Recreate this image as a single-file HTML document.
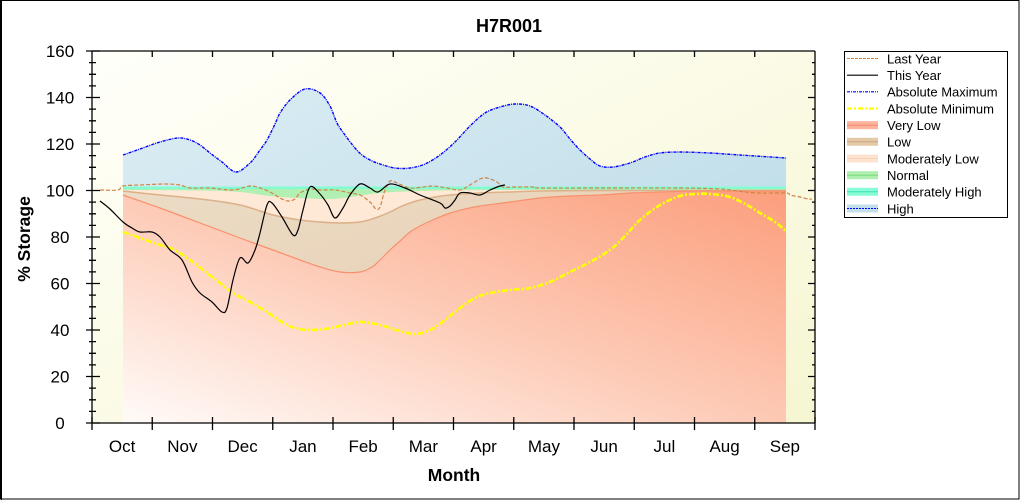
<!DOCTYPE html>
<html>
<head>
<meta charset="utf-8">
<style>
html,body{margin:0;padding:0;background:#fff;}
svg{display:block;}
text{font-family:"Liberation Sans",Arial,sans-serif;}
</style>
</head>
<body>
<svg id="chart" width="1020" height="500" viewBox="0 0 1020 500" xmlns="http://www.w3.org/2000/svg">
<defs>
  <linearGradient id="bg" x1="0" y1="0" x2="1" y2="1">
    <stop offset="0" stop-color="#fffffa"/>
    <stop offset="1" stop-color="#f6f6d2"/>
  </linearGradient>
  <linearGradient id="hi" x1="0" y1="0" x2="1" y2="1">
    <stop offset="0" stop-color="#dcedf4"/>
    <stop offset="1" stop-color="#b4d8e5"/>
  </linearGradient>
  <linearGradient id="vl" x1="0" y1="1" x2="1" y2="0">
    <stop offset="0" stop-color="#fffbf9"/>
    <stop offset="0.5" stop-color="#fdc9b4"/>
    <stop offset="1" stop-color="#fc9e7c"/>
  </linearGradient>
  <linearGradient id="lo" x1="0" y1="0" x2="1" y2="1">
    <stop offset="0" stop-color="#ecdcc6"/>
    <stop offset="1" stop-color="#e3c8a8"/>
  </linearGradient>
</defs>

<!-- outer frame -->
<rect x="0.5" y="0.5" width="1018.5" height="498.5" fill="#fff" stroke="#000" stroke-width="1"/>
<line x1="1.5" y1="0" x2="1.5" y2="500" stroke="#000" stroke-width="1"/>

<!-- plot background -->
<rect x="92" y="51" width="723" height="372" fill="url(#bg)"/>

<!-- High -->
<polygon class="smf" fill="url(#hi)" points="123,155 140,149 160,142 178,138 190,140 200,145 210,153 222,162 236,172 250,163 260,150 267,140 275,124 280,113 290,100 305,89 320,93 330,106 337,123 345,135 355,148 362,155 370,160 380,164 395,168 410,168 425,164 440,155 455,142 470,126 485,113 500,107 515,104 530,106 545,115 560,127 570,139 580,150 590,159 600,166 613,167 630,163 645,157 660,153 680,152 710,153 740,155 786,158 786,423 123,423"/>
<!-- Moderately High -->
<rect x="123" y="186.5" width="663" height="236.5" fill="#84fcd2"/>
<!-- Normal -->
<rect x="123" y="189" width="663" height="234" fill="#b2efb2"/>
<!-- Moderately Low -->
<polygon class="smf" fill="#fee8d6" points="123,190 200,190.5 240,192 270,196 300,198 330,199 350,197 380,193 420,191 500,190 786,190 786,423 123,423"/>
<!-- Low -->
<polygon class="smf" fill="url(#lo)" points="123,191 150,194 200,199 240,205 273,215 300,220 320,222 340,223 360,222 375,218 390,212 400,207 410,203 420,200 435,197 450,195 480,193 510,192 540,191 600,190.5 786,190.5 786,423 123,423"/>
<!-- Very Low -->
<polygon class="smf" fill="url(#vl)" points="123,195 160,208 200,223 240,238 273,250 300,260 320,267 340,272 360,272 372,267 380,260 390,250 400,241 410,232 420,226 435,219 450,213 465,209 480,206 510,202 540,198 570,196 600,195 630,193 660,192 700,191 786,191 786,423 123,423"/>

<!-- band lines -->
<polyline class="sm" fill="none" stroke="#dcb088" stroke-width="1.5" points="123,191 150,194 200,199 240,205 273,215 300,220 320,222 340,223 360,222 375,218 390,212 400,207 410,203 420,200 435,197 450,195 480,193 510,192 540,191 600,190.5 786,190.5"/>
<polyline class="sm" fill="none" stroke="#f8906e" stroke-width="1.2" points="123,195 160,208 200,223 240,238 273,250 300,260 320,267 340,272 360,272 372,267 380,260 390,250 400,241 410,232 420,226 435,219 450,213 465,209 480,206 510,202 540,198 570,196 600,195 630,193 660,192 700,191 786,191"/>

<!-- Absolute Maximum -->
<polyline class="sm" fill="none" stroke="#0000ff" stroke-width="1.4" stroke-dasharray="3,1,1,1" points="123,155 140,149 160,142 178,138 190,140 200,145 210,153 222,162 236,172 250,163 260,150 267,140 275,124 280,113 290,100 305,89 320,93 330,106 337,123 345,135 355,148 362,155 370,160 380,164 395,168 410,168 425,164 440,155 455,142 470,126 485,113 500,107 515,104 530,106 545,115 560,127 570,139 580,150 590,159 600,166 613,167 630,163 645,157 660,153 680,152 710,153 740,155 786,158"/>

<!-- Absolute Minimum -->
<polyline class="sm" fill="none" stroke="#ffff00" stroke-width="2.6" stroke-dasharray="6,2,2,2" points="123,232 140,238 160,245 173,249 190,260 207,273 220,283 233,293 250,302 267,312 287,325 300,329 310,330 325,329 340,326 360,322 380,325 400,331 415,334 430,330 445,320 460,308 475,298 490,293 510,290 530,288 550,282 570,272 590,262 610,250 625,236 640,220 660,205 680,196 695,194 710,194 730,197 747,205 760,213 775,222 786,231"/>

<!-- Last Year -->
<polyline class="sm" fill="none" stroke="#cf8444" stroke-width="1.2" stroke-dasharray="4,2" points="100,190 118,190 123,186 140,185 165,184 180,185 190,188 210,188 233,190 250,186 260,188 270,192 280,198 288,201 295,199 300,193 310,189 320,190 335,190 350,193 360,195 370,202 376,209 380,207 385,190 390,181 397,183 410,188 423,187 433,186 447,188 460,190 470,185 480,179 487,178 497,182 503,187 513,187 533,187 540,188 600,188 680,188 720,189 737,191 757,193 786,193 790,195 800,197 808,199 812,199"/>

<!-- This Year -->
<polyline class="sm" fill="none" stroke="#000" stroke-width="1.2" stroke-linejoin="round" points="100,201 110,209 123,222 132,228 140,232 152,232 160,237 170,250 182,260 192,282 200,293 212,302 222,312 227,308 233,280 240,258 248,263 255,250 260,233 267,205 272,203 282,217 293,235 298,230 303,210 310,187 320,194 328,205 335,218 343,208 350,195 360,184 370,188 378,192 390,184 405,188 420,195 440,203 445,208 450,206 455,200 460,193 470,193 480,195 490,190 500,186 505,185"/>

<!-- axes -->
<g stroke="#000" stroke-width="1.3" fill="none">
  <line x1="92" y1="51" x2="815" y2="51"/>
  <line x1="92" y1="423" x2="815" y2="423"/>
  <line x1="92" y1="51" x2="92" y2="423"/>
  <line x1="815" y1="51" x2="815" y2="423"/>
  <path d="M86,51H100M86,97.5H100M86,144H100M86,190.5H100M86,237H100M86,283.5H100M86,330H100M86,376.5H100M86,423H100"/>
  <path d="M89,62.6H96M89,74.3H96M89,85.9H96M89,109.1H96M89,120.8H96M89,132.4H96M89,155.6H96M89,167.3H96M89,178.9H96M89,202.1H96M89,213.8H96M89,225.4H96M89,248.6H96M89,260.3H96M89,271.9H96M89,295.1H96M89,306.8H96M89,318.4H96M89,341.6H96M89,353.3H96M89,364.9H96M89,388.1H96M89,399.8H96M89,411.4H96"/>
  <path d="M808,97.5H815M808,144H815M808,190.5H815M808,237H815M808,283.5H815M808,330H815M808,376.5H815"/>
  <path d="M812,62.6H815M812,74.3H815M812,85.9H815M812,109.1H815M812,120.8H815M812,132.4H815M812,155.6H815M812,167.3H815M812,178.9H815M812,202.1H815M812,213.8H815M812,225.4H815M812,248.6H815M812,260.3H815M812,271.9H815M812,295.1H815M812,306.8H815M812,318.4H815M812,341.6H815M812,353.3H815M812,364.9H815M812,388.1H815M812,399.8H815M812,411.4H815"/>
  <path d="M92,417V430M152.25,417V430M212.5,417V430M272.75,417V430M333,417V430M393.25,417V430M453.5,417V430M513.75,417V430M574,417V430M634.25,417V430M694.5,417V430M754.75,417V430M815,417V430"/>
  <path d="M152.25,51V57M212.5,51V57M272.75,51V57M333,51V57M393.25,51V57M453.5,51V57M513.75,51V57M574,51V57M634.25,51V57M694.5,51V57M754.75,51V57"/>
</g>

<!-- y tick labels -->
<g font-size="17" text-anchor="middle" fill="#000">
  <text x="60" y="57">160</text>
  <text x="60" y="103.5">140</text>
  <text x="60" y="150">120</text>
  <text x="60" y="196.5">100</text>
  <text x="60" y="243">80</text>
  <text x="60" y="289.5">60</text>
  <text x="60" y="336">40</text>
  <text x="60" y="382.5">20</text>
  <text x="60" y="429">0</text>
</g>

<!-- x tick labels -->
<g font-size="17" text-anchor="middle" fill="#000">
  <text x="122.1" y="452">Oct</text>
  <text x="182.4" y="452">Nov</text>
  <text x="242.6" y="452">Dec</text>
  <text x="302.9" y="452">Jan</text>
  <text x="363.1" y="452">Feb</text>
  <text x="423.4" y="452">Mar</text>
  <text x="483.6" y="452">Apr</text>
  <text x="543.9" y="452">May</text>
  <text x="604.1" y="452">Jun</text>
  <text x="664.4" y="452">Jul</text>
  <text x="724.6" y="452">Aug</text>
  <text x="784.9" y="452">Sep</text>
</g>

<!-- titles -->
<text x="509" y="32" font-size="18" font-weight="bold" text-anchor="middle">H7R001</text>
<text x="454" y="481" font-size="17.5" font-weight="bold" text-anchor="middle">Month</text>
<text transform="translate(30,239) rotate(-90)" font-size="17.5" font-weight="bold" text-anchor="middle">% Storage</text>

<!-- legend -->
<rect x="844.5" y="51.5" width="163" height="166" fill="#fff" stroke="#000" stroke-width="1"/>
<g>
  <line x1="847" y1="58.5" x2="878" y2="58.5" stroke="#cf8444" stroke-width="1" stroke-dasharray="3,1"/>
  <line x1="847" y1="75.2" x2="878" y2="75.2" stroke="#000" stroke-width="1.2"/>
  <line x1="847" y1="91.8" x2="878" y2="91.8" stroke="#0000ff" stroke-width="1.2" stroke-dasharray="3,1,1,1"/>
  <line x1="847" y1="108.5" x2="878" y2="108.5" stroke="#ffff00" stroke-width="2.2" stroke-dasharray="5,2,2,2"/>
  <rect x="847" y="121.2" width="31" height="8" fill="#fbb39c"/>
  <line x1="847" y1="125.2" x2="878" y2="125.2" stroke="#f8866a" stroke-width="1"/>
  <rect x="847" y="137.8" width="31" height="8" fill="#e4c9a8"/>
  <line x1="847" y1="141.8" x2="878" y2="141.8" stroke="#cca47c" stroke-width="1"/>
  <rect x="847" y="154.5" width="31" height="8" fill="#fde3d0"/>
  <line x1="847" y1="158.5" x2="878" y2="158.5" stroke="#f6d2b8" stroke-width="1"/>
  <rect x="847" y="171.2" width="31" height="8" fill="#aeeeae"/>
  <line x1="847" y1="175.2" x2="878" y2="175.2" stroke="#78d878" stroke-width="1"/>
  <rect x="847" y="187.8" width="31" height="8" fill="#88fcd6"/>
  <line x1="847" y1="191.8" x2="878" y2="191.8" stroke="#3ee0b0" stroke-width="1"/>
  <rect x="847" y="204.5" width="31" height="8" fill="#c4dfec"/>
  <line x1="847" y1="208.5" x2="878" y2="208.5" stroke="#0000ff" stroke-width="1" stroke-dasharray="2,1"/>
</g>
<g font-size="13" fill="#000">
  <text x="887" y="63.3">Last Year</text>
  <text x="887" y="80">This Year</text>
  <text x="887" y="96.6">Absolute Maximum</text>
  <text x="887" y="113.3">Absolute Minimum</text>
  <text x="887" y="130">Very Low</text>
  <text x="887" y="146.6">Low</text>
  <text x="887" y="163.3">Moderately Low</text>
  <text x="887" y="180">Normal</text>
  <text x="887" y="196.6">Moderately High</text>
  <text x="887" y="213.3">High</text>
</g>
</svg>
<script>
(function(){
  var NS="http://www.w3.org/2000/svg";
  function parse(s){
    return s.trim().split(/\s+/).map(function(p){var a=p.split(',');return [parseFloat(a[0]),parseFloat(a[1])];});
  }
  function cr(pts){
    var d="M"+pts[0][0]+","+pts[0][1];
    for(var i=0;i<pts.length-1;i++){
      var p0=pts[i>0?i-1:i],p1=pts[i],p2=pts[i+1],p3=pts[i+2<pts.length?i+2:i+1];
      var c1x=p1[0]+(p2[0]-p0[0])/6,c1y=p1[1]+(p2[1]-p0[1])/6;
      var c2x=p2[0]-(p3[0]-p1[0])/6,c2y=p2[1]-(p3[1]-p1[1])/6;
      d+=" C"+c1x.toFixed(2)+","+c1y.toFixed(2)+" "+c2x.toFixed(2)+","+c2y.toFixed(2)+" "+p2[0]+","+p2[1];
    }
    return d;
  }
  function replace(el,d){
    var p=document.createElementNS(NS,"path");
    for(var i=0;i<el.attributes.length;i++){
      var a=el.attributes[i];
      if(a.name!=="points"&&a.name!=="class")p.setAttribute(a.name,a.value);
    }
    p.setAttribute("d",d);
    el.parentNode.replaceChild(p,el);
  }
  try{
    var ls=document.querySelectorAll("polyline.sm");
    for(var i=0;i<ls.length;i++){replace(ls[i],cr(parse(ls[i].getAttribute("points"))));}
    var fs=document.querySelectorAll("polygon.smf");
    for(var j=0;j<fs.length;j++){
      var pts=parse(fs[j].getAttribute("points"));
      var top=pts.slice(0,pts.length-2),b=pts.slice(pts.length-2);
      var d=cr(top)+" L"+b[0][0]+","+b[0][1]+" L"+b[1][0]+","+b[1][1]+" Z";
      replace(fs[j],d);
    }
  }catch(e){}
})();
</script>
</body>
</html>
